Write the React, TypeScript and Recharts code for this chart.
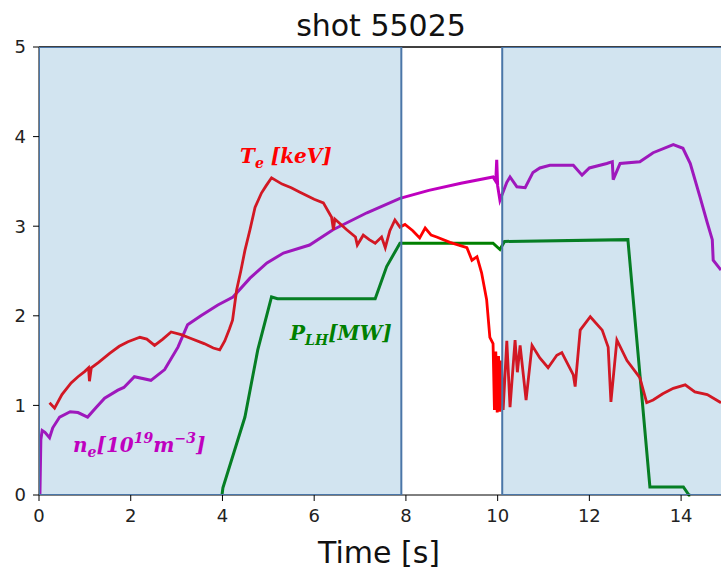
import React from 'react';
import { LineChart, Line, XAxis, YAxis, ReferenceArea, ReferenceLine } from 'recharts';

// time axis ticks and the two shaded windows [s]
const timeTicks = [0, 2, 4, 6, 8, 10, 12, 14];
const valueTicks = [0, 1, 2, 3, 4, 5];
const shadedWindows = [
    [0, 7.9],
    [10.1, 15.5],
];

// Te [keV]
const teTime = [0.23, 0.34, 0.5, 0.7, 0.85, 1.0, 1.08, 1.1, 1.14, 1.3, 1.54, 1.75, 1.94, 2.2, 2.35, 2.52, 2.7, 2.88, 3.1, 3.3, 3.6, 3.8, 3.94, 4.05, 4.15, 4.22, 4.31, 4.4, 4.49, 4.6, 4.71, 4.85, 4.95, 5.07, 5.3, 5.5, 5.69, 6.0, 6.2, 6.38, 6.42, 6.45, 6.71, 6.9, 6.94, 7.07, 7.2, 7.33, 7.47, 7.55, 7.65, 7.76, 7.87, 7.98, 8.15, 8.3, 8.42, 8.55, 8.67, 8.96, 9.33, 9.44, 9.55, 9.65, 9.76, 9.83, 9.9, 9.93, 9.96, 9.99, 10.02, 10.05, 10.08, 10.12, 10.2, 10.27, 10.38, 10.43, 10.49, 10.62, 10.75, 10.92, 11.1, 11.29, 11.4, 11.65, 11.69, 11.8, 12.02, 12.28, 12.41, 12.47, 12.6, 12.82, 13.1, 13.25, 13.39, 13.6, 13.83, 14.09, 14.3, 14.57, 14.87];
const teValue = [1.03, 0.97, 1.12, 1.25, 1.32, 1.38, 1.42, 1.27, 1.42, 1.48, 1.58, 1.66, 1.71, 1.76, 1.74, 1.67, 1.74, 1.82, 1.79, 1.75, 1.69, 1.64, 1.62, 1.72, 1.85, 1.95, 2.29, 2.5, 2.73, 2.96, 3.21, 3.37, 3.45, 3.54, 3.47, 3.43, 3.38, 3.3, 3.26, 3.1, 2.96, 3.08, 2.96, 2.88, 2.79, 2.9, 2.85, 2.81, 2.88, 2.76, 2.95, 3.07, 2.99, 3.02, 2.95, 2.87, 2.98, 2.9, 2.88, 2.82, 2.76, 2.62, 2.66, 2.48, 2.18, 1.76, 1.69, 0.95, 1.6, 0.92, 1.55, 0.93, 1.5, 0.95, 1.72, 0.98, 1.73, 1.37, 1.67, 1.06, 1.67, 1.53, 1.42, 1.56, 1.59, 1.34, 1.21, 1.84, 1.99, 1.84, 1.65, 1.04, 1.73, 1.5, 1.31, 1.03, 1.06, 1.13, 1.19, 1.23, 1.15, 1.12, 1.03];

// ne [1e19 m^-3]
const neTime = [0.02, 0.04, 0.07, 0.13, 0.23, 0.3, 0.45, 0.68, 0.85, 1.06, 1.25, 1.43, 1.72, 1.85, 2.08, 2.44, 2.74, 3.03, 3.24, 3.53, 3.9, 4.23, 4.6, 4.97, 5.33, 5.9, 6.41, 7.15, 7.87, 8.5, 9.2, 9.9, 9.96, 9.98, 10.0, 10.05, 10.2, 10.27, 10.42, 10.6, 10.77, 10.92, 11.14, 11.65, 11.84, 12.0, 12.38, 12.5, 12.52, 12.67, 13.1, 13.39, 13.83, 14.04, 14.2, 14.41, 14.57, 14.68, 14.7, 14.87];
const neValue = [0, 0.62, 0.72, 0.7, 0.64, 0.75, 0.87, 0.93, 0.92, 0.87, 0.98, 1.08, 1.17, 1.2, 1.32, 1.28, 1.4, 1.65, 1.9, 2.0, 2.12, 2.21, 2.42, 2.59, 2.7, 2.79, 2.96, 3.15, 3.31, 3.4, 3.48, 3.55, 3.5, 3.74, 3.45, 3.29, 3.49, 3.55, 3.44, 3.43, 3.6, 3.65, 3.68, 3.68, 3.57, 3.65, 3.7, 3.72, 3.52, 3.7, 3.72, 3.82, 3.91, 3.87, 3.7, 3.33, 3.04, 2.85, 2.62, 2.51];

// PLH [MW]
const plhTime = [3.99, 4.01, 4.49, 4.77, 5.07, 5.2, 7.33, 7.58, 7.87, 9.9, 10.05, 10.15, 12.84, 13.32, 14.05, 14.17, 14.2];
const plhValue = [0, 0.08, 0.87, 1.62, 2.21, 2.19, 2.19, 2.55, 2.81, 2.81, 2.74, 2.83, 2.85, 0.09, 0.09, 0, 0];

const toRows = (ts: number[], vs: number[]) => ts.map((t, i) => ({ t, v: vs[i] }));
const teData = toRows(teTime, teValue);
const neData = toRows(neTime, neValue);
const plhData = toRows(plhTime, plhValue);

const W = 721;
const H = 569;
const MARGIN = { top: 47, right: 0, bottom: 0, left: 0 };
const X_DOMAIN: [number, number] = [0, 14.87];
const tickStyle = { fill: '#222', fontSize: 18, fontFamily: 'DejaVu Sans' };
const mathFont = { fontFamily: 'DejaVu Serif', fontWeight: 'bold' as const, fontStyle: 'italic' as const, fontSize: 20 };
const layer = { position: 'absolute' as const, left: 0, top: 0 };

export default function App() {
    return (
        <div style={{ ...layer, width: W, height: H, background: '#fff' }}>
            <div style={layer}>
                <LineChart width={W} height={H} margin={MARGIN}>
                    <XAxis
                        type="number"
                        dataKey="t"
                        domain={X_DOMAIN}
                        ticks={timeTicks}
                        allowDataOverflow
                        height={74}
                        stroke="#000"
                        tickSize={6}
                        tickMargin={8}
                        tick={tickStyle}
                    />
                    <YAxis
                        type="number"
                        domain={[0, 5]}
                        ticks={valueTicks}
                        width={39}
                        stroke="#000"
                        tickSize={6}
                        tickMargin={7}
                        tick={tickStyle}
                    />
                    <ReferenceLine y={5} stroke="#000" strokeWidth={1.5} />
                    <Line data={neData} dataKey="v" stroke="#bf00bf" strokeWidth={3} dot={false} isAnimationActive={false} />
                    <Line data={plhData} dataKey="v" stroke="#008000" strokeWidth={3} dot={false} isAnimationActive={false} />
                    <Line data={teData} dataKey="v" stroke="#ff0000" strokeWidth={2.8} dot={false} isAnimationActive={false} />
                </LineChart>
            </div>
            {/* second chart on top: translucent spans over the traces, same scales */}
            <div style={{ ...layer, pointerEvents: 'none' }}>
                <LineChart width={W} height={H} margin={MARGIN}>
                    <XAxis type="number" dataKey="t" domain={X_DOMAIN} allowDataOverflow height={74} axisLine={false} tickLine={false} tick={false} />
                    <YAxis type="number" domain={[0, 5]} width={39} axisLine={false} tickLine={false} tick={false} />
                    <Line data={teData} dataKey="v" stroke="none" dot={false} isAnimationActive={false} />
                    {shadedWindows.map(([a, b], i) => (
                        <ReferenceArea
                            key={i}
                            x1={a}
                            x2={b}
                            y1={0}
                            y2={5}
                            ifOverflow="hidden"
                            fill="#1f77b4"
                            fillOpacity={0.2}
                            stroke="#4a76a8"
                            strokeWidth={2}
                        />
                    ))}
                </LineChart>
            </div>
            <svg width={W} height={H} style={{ ...layer, pointerEvents: 'none' }}>
                <text x={381} y={36} textAnchor="middle" fontFamily="DejaVu Sans" fontSize={30} fill="#111">shot 55025</text>
                <text x={379} y={563} textAnchor="middle" fontFamily="DejaVu Sans" fontSize={30} fill="#111">Time [s]</text>
                <text x={240} y={163} fill="#ff0000" {...mathFont}>
                    T<tspan fontSize={14} dy={5}>e</tspan><tspan dy={-5}> [keV]</tspan>
                </text>
                <text x={290} y={340} fill="#008000" {...mathFont}>
                    P<tspan fontSize={14} dy={5}>LH</tspan><tspan dy={-5}>[MW]</tspan>
                </text>
                <text x={73} y={452} fill="#bf00bf" {...mathFont}>
                    n<tspan fontSize={14} dy={5}>e</tspan><tspan dy={-5}>[10</tspan><tspan fontSize={14} dy={-9}>19</tspan><tspan dy={9}>m</tspan><tspan fontSize={14} dy={-9}>−3</tspan><tspan dy={9}>]</tspan>
                </text>
            </svg>
        </div>
    );
}
